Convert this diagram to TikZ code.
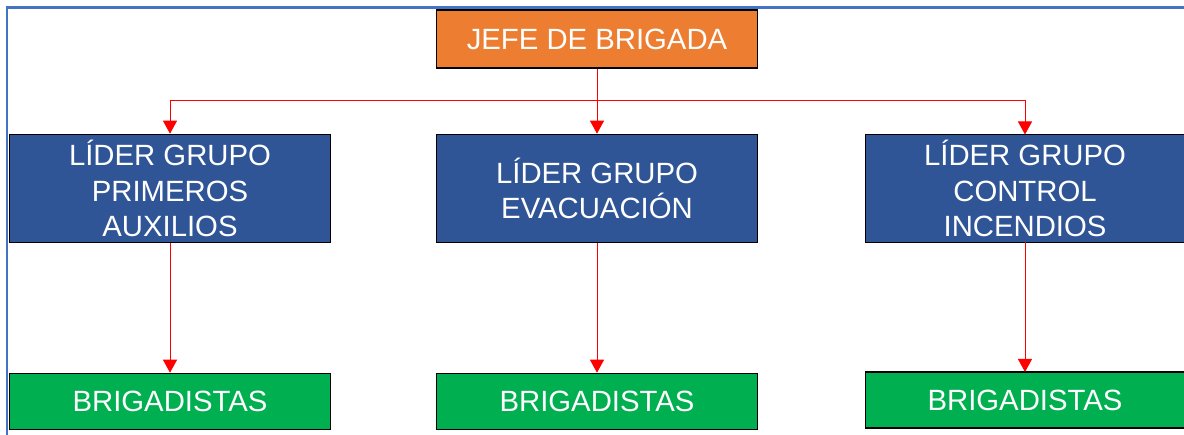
\documentclass[tikz,border=0pt]{standalone}
\usepackage{fontspec}
\setmainfont{Liberation Sans}
\usetikzlibrary{arrows.meta}
\definecolor{jefeorange}{HTML}{ED7D31}
\definecolor{liderblue}{HTML}{2F5597}
\definecolor{brigreen}{HTML}{00B050}
\definecolor{frameblue}{HTML}{4472C4}
\definecolor{linkred}{HTML}{FF0000}
\begin{document}
\begin{tikzpicture}[x=1pt,y=-1pt,
  txt/.style={inner sep=0pt, text=white, align=center,
    font=\fontsize{29.3}{35.5}\selectfont},
  box/.style={txt, draw=black, line width=1.6pt, rectangle, minimum width=321pt},
  jefebox/.style={box, fill=jefeorange, minimum height=58pt},
  liderbox/.style={box, fill=liderblue, minimum height=108pt},
  brigbox/.style={box, fill=brigreen, minimum height=56pt},
  wide/.style={minimum width=400pt, anchor=west},
  link/.style={draw=linkred, line width=1pt, -{Triangle[width=14pt,length=13pt]}}
]
\useasboundingbox (0,0) rectangle (1184,435);
\clip (0,0) rectangle (1184,435);
\draw[frameblue, line width=2.2pt] (7,440) -- (7,7.5) -- (1190,7.5);

\node[jefebox] (jefe) at (597,39) {JEFE DE BRIGADA};
\node[liderbox] (m1) at (170,188.5) {LÍDER GRUPO\\PRIMEROS\\AUXILIOS};
\node[liderbox] (m2) at (597,188.5) {LÍDER GRUPO\\EVACUACIÓN};
\node[liderbox, wide] (m3) at (864.5,188.5) {};
\node[txt] (m3t) at (1025,188.5) {LÍDER GRUPO\\CONTROL\\INCENDIOS};
\node[brigbox] (b1) at (170,401.5) {BRIGADISTAS};
\node[brigbox] (b2) at (597,401.5) {BRIGADISTAS};
\node[brigbox, wide] (b3) at (864.5,400) {};
\node[txt] (b3t) at (1025,400) {BRIGADISTAS};

\coordinate (bus) at (597,101);
\coordinate (m3top) at (1025,134.5);
\coordinate (m3bot) at (1025,242.5);
\coordinate (b3top) at (1025,372);
\draw[link] (jefe.south) -- (m2.north);
\draw[link] (bus) -| (m1.north);
\draw[link] (bus) -| (m3top);
\draw[link] (m1.south) -- (b1.north);
\draw[link] (m2.south) -- (b2.north);
\draw[link] (m3bot) -- (b3top);
\end{tikzpicture}
\end{document}
